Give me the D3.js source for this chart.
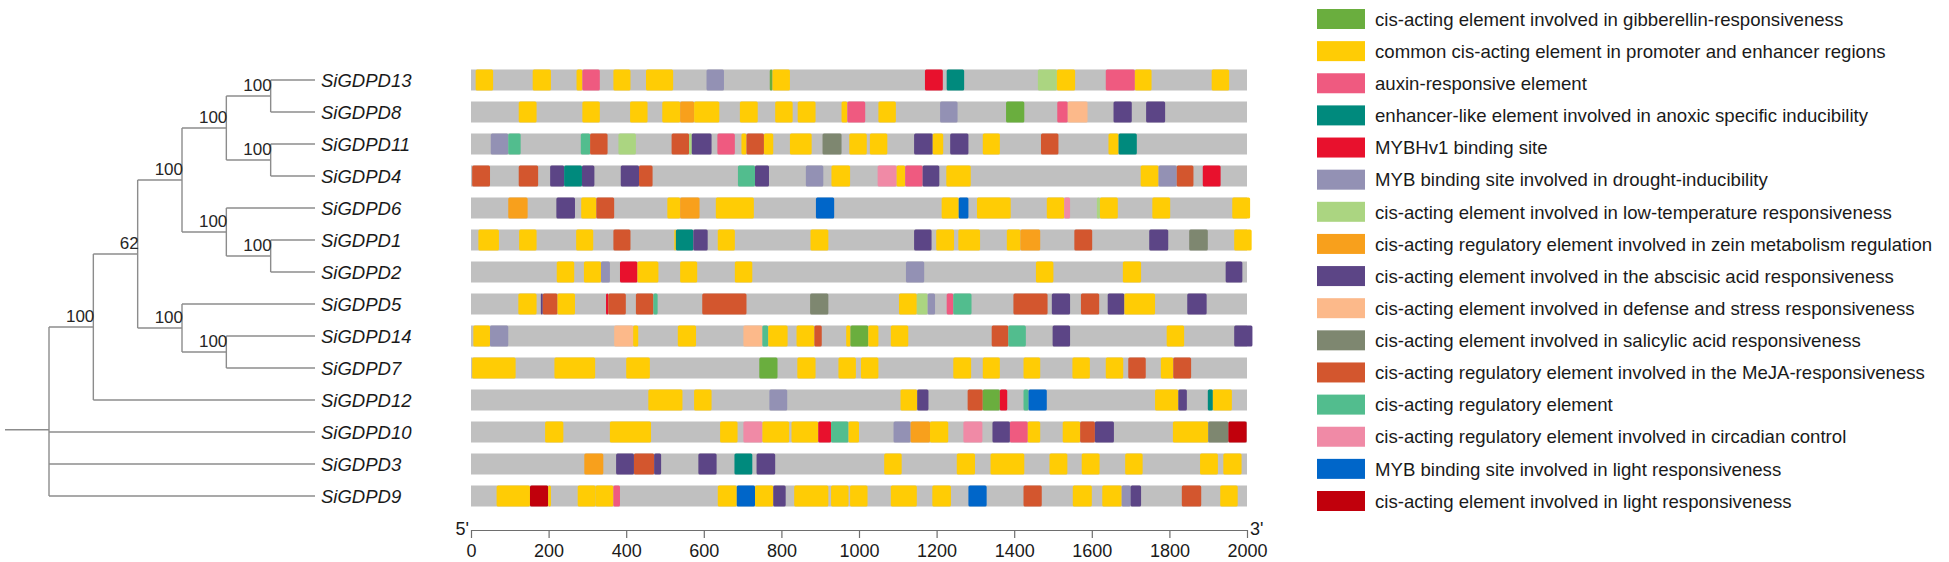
<!DOCTYPE html>
<html>
<head>
<meta charset="utf-8">
<script src="https://cdn.jsdelivr.net/npm/d3@7"></script>
<style>
  html, body { margin: 0; padding: 0; background: #fff; }
  svg { display: block; font-family: "Liberation Sans", Arial, sans-serif; }
</style>
</head>
<body>
<svg id="chart" width="1949" height="562"></svg>
<script>
// Gene order (top to bottom, as in the tree)
const genes = ['SiGDPD13', 'SiGDPD8', 'SiGDPD11', 'SiGDPD4', 'SiGDPD6', 'SiGDPD1', 'SiGDPD2',
    'SiGDPD5', 'SiGDPD14', 'SiGDPD7', 'SiGDPD12', 'SiGDPD10', 'SiGDPD3', 'SiGDPD9'];

// Tree topology with bootstrap support
const tree = {children: [
    {boot: 100, children: [
        {boot: 62, children: [
            {boot: 100, children: [
                {boot: 100, children: [
                    {boot: 100, children: [{name: 'SiGDPD13'}, {name: 'SiGDPD8'}]},
                    {boot: 100, children: [{name: 'SiGDPD11'}, {name: 'SiGDPD4'}]}
                ]},
                {boot: 100, children: [
                    {name: 'SiGDPD6'},
                    {boot: 100, children: [{name: 'SiGDPD1'}, {name: 'SiGDPD2'}]}
                ]}
            ]},
            {boot: 100, children: [
                {name: 'SiGDPD5'},
                {boot: 100, children: [{name: 'SiGDPD14'}, {name: 'SiGDPD7'}]}
            ]}
        ]},
        {name: 'SiGDPD12'}
    ]},
    {name: 'SiGDPD10'},
    {name: 'SiGDPD3'},
    {name: 'SiGDPD9'}
]};

// Element types (legend order)
const motifKeys = ['gib', 'com', 'aux', 'anox', 'mybhv1', 'mybd', 'ltr', 'zein',
    'aba', 'def', 'sa', 'meja', 'reg', 'circ', 'mybl', 'light'];
const motifLabels = [
    'cis-acting element involved in gibberellin-responsiveness',
    'common cis-acting element in promoter and enhancer regions',
    'auxin-responsive element',
    'enhancer-like element involved in anoxic specific inducibility',
    'MYBHv1 binding site',
    'MYB binding site involved in drought-inducibility',
    'cis-acting element involved in low-temperature responsiveness',
    'cis-acting regulatory element involved in zein metabolism regulation',
    'cis-acting element involved in the abscisic acid responsiveness',
    'cis-acting element involved in defense and stress responsiveness',
    'cis-acting element involved in salicylic acid responsiveness',
    'cis-acting regulatory element involved in the MeJA-responsiveness',
    'cis-acting regulatory element',
    'cis-acting regulatory element involved in circadian control',
    'MYB binding site involved in light responsiveness',
    'cis-acting element involved in light responsiveness'
];
const motifColors = ['#6aae3e', '#ffcc05', '#ef5a80', '#008a7d', '#e8112d', '#9391b4', '#abd581', '#f8a01c',
    '#5c4586', '#fcb98a', '#7e8770', '#d3562e', '#52bd8e', '#f08aa6', '#0066c9', '#c1000c'];

// Promoter length and axis ticks
const promoterLength = 2000;
const ticks = [0, 200, 400, 600, 800, 1000, 1200, 1400, 1600, 1800, 2000];

// Elements per gene: [type, start, end] (bp)
const motifs = {
    SiGDPD13: [['com', 12, 57], ['com', 159, 206], ['com', 272, 287], ['aux', 287, 332], ['com', 367, 411],
        ['com', 451, 521], ['mybd', 607, 652], ['gib', 770, 777], ['com', 777, 822], ['mybhv1', 1170, 1216],
        ['anox', 1226, 1271], ['ltr', 1461, 1510], ['com', 1510, 1557], ['aux', 1636, 1711], ['com', 1711, 1754],
        ['com', 1909, 1954]],
    SiGDPD8: [['com', 123, 169], ['com', 287, 332], ['com', 410, 455], ['com', 493, 539], ['zein', 539, 575],
        ['com', 575, 640], ['com', 693, 739], ['com', 784, 829], ['com', 842, 888], ['com', 955, 970],
        ['aux', 970, 1016], ['com', 1050, 1095], ['mybd', 1209, 1254], ['gib', 1379, 1426], ['aux', 1511, 1538],
        ['def', 1538, 1589], ['aba', 1656, 1703], ['aba', 1740, 1789]],
    SiGDPD11: [['mybd', 51, 96], ['reg', 96, 128], ['reg', 283, 307], ['meja', 307, 352], ['ltr', 380, 425],
        ['meja', 517, 562], ['ltr', 562, 569], ['aba', 569, 620], ['aux', 635, 680], ['com', 697, 710],
        ['meja', 710, 755], ['com', 755, 779], ['com', 822, 878], ['sa', 906, 955], ['com', 975, 1020],
        ['com', 1028, 1073], ['aba', 1142, 1190], ['com', 1190, 1217], ['aba', 1235, 1282], ['com', 1319, 1363],
        ['meja', 1469, 1514], ['com', 1643, 1669], ['anox', 1669, 1716]],
    SiGDPD4: [['meja', 3, 49], ['meja', 123, 173], ['aba', 204, 240], ['anox', 240, 286], ['aba', 286, 318],
        ['aba', 386, 433], ['meja', 433, 468], ['reg', 688, 732], ['aba', 732, 768], ['mybd', 863, 908],
        ['com', 929, 977], ['circ', 1048, 1097], ['com', 1097, 1119], ['aux', 1119, 1164], ['aba', 1164, 1207],
        ['com', 1225, 1288], ['com', 1726, 1772], ['mybd', 1772, 1819], ['meja', 1819, 1862], ['mybhv1', 1886, 1932]],
    SiGDPD6: [['zein', 96, 146], ['aba', 220, 268], ['com', 284, 323], ['meja', 323, 369], ['com', 506, 539],
        ['zein', 539, 589], ['com', 631, 729], ['mybl', 889, 936], ['com', 1213, 1257], ['mybl', 1257, 1282],
        ['com', 1304, 1391], ['com', 1484, 1529], ['circ', 1529, 1544], ['ltr', 1613, 1621], ['com', 1621, 1667],
        ['com', 1756, 1802], ['com', 1962, 2008]],
    SiGDPD1: [['com', 19, 72], ['com', 124, 169], ['com', 271, 315], ['meja', 367, 411], ['com', 524, 528],
        ['anox', 528, 573], ['aba', 573, 610], ['com', 636, 680], ['com', 875, 921], ['aba', 1142, 1187],
        ['com', 1199, 1245], ['com', 1256, 1312], ['com', 1381, 1416], ['zein', 1416, 1467], ['meja', 1555, 1601],
        ['aba', 1748, 1797], ['sa', 1851, 1899], ['com', 1967, 2012]],
    SiGDPD2: [['com', 221, 266], ['com', 291, 335], ['mybd', 335, 358], ['mybhv1', 384, 429], ['com', 429, 483],
        ['com', 539, 583], ['com', 680, 725], ['mybd', 1121, 1168], ['com', 1456, 1501], ['com', 1680, 1727],
        ['aba', 1945, 1988]],
    SiGDPD5: [['com', 122, 169], ['aba', 180, 185], ['meja', 185, 223], ['com', 223, 268], ['mybhv1', 348, 354],
        ['meja', 354, 399], ['meja', 425, 470], ['reg', 470, 481], ['meja', 596, 710], ['sa', 874, 921],
        ['com', 1103, 1149], ['ltr', 1149, 1177], ['mybd', 1177, 1196], ['aux', 1226, 1243], ['reg', 1243, 1290],
        ['meja', 1398, 1486], ['aba', 1497, 1544], ['meja', 1572, 1619], ['aba', 1641, 1684], ['com', 1684, 1763],
        ['aba', 1846, 1896]],
    SiGDPD14: [['com', 6, 49], ['mybd', 49, 96], ['def', 369, 418], ['com', 418, 431], ['com', 533, 580],
        ['def', 702, 751], ['reg', 751, 766], ['com', 766, 816], ['com', 839, 885], ['meja', 885, 904],
        ['com', 967, 978], ['gib', 978, 1024], ['com', 1024, 1050], ['com', 1082, 1127], ['meja', 1342, 1385],
        ['reg', 1385, 1430], ['aba', 1499, 1544], ['com', 1793, 1838], ['aba', 1967, 2014]],
    SiGDPD7: [['com', 3, 115], ['com', 215, 320], ['com', 400, 461], ['gib', 743, 790], ['com', 841, 888],
        ['com', 947, 992], ['com', 1005, 1050], ['com', 1243, 1289], ['com', 1319, 1363], ['com', 1424, 1467],
        ['com', 1550, 1595], ['com', 1636, 1681], ['meja', 1694, 1739], ['com', 1778, 1810], ['meja', 1810, 1856]],
    SiGDPD12: [['com', 457, 545], ['com', 575, 620], ['mybd', 769, 815], ['com', 1107, 1150], ['aba', 1150, 1179],
        ['meja', 1280, 1319], ['gib', 1319, 1363], ['mybhv1', 1363, 1382], ['reg', 1424, 1437], ['mybl', 1437, 1484],
        ['com', 1763, 1823], ['aba', 1823, 1845], ['anox', 1899, 1912], ['com', 1912, 1961]],
    SiGDPD10: [['com', 191, 238], ['com', 358, 464], ['com', 642, 687], ['circ', 702, 751], ['com', 751, 820],
        ['com', 826, 895], ['mybhv1', 895, 928], ['reg', 928, 973], ['com', 973, 1000], ['mybd', 1089, 1133],
        ['zein', 1133, 1183], ['com', 1183, 1230], ['circ', 1269, 1318], ['aba', 1344, 1389], ['aux', 1389, 1435],
        ['com', 1435, 1467], ['com', 1525, 1570], ['meja', 1570, 1608], ['aba', 1608, 1657], ['com', 1809, 1900],
        ['sa', 1900, 1952], ['light', 1952, 1999]],
    SiGDPD3: [['zein', 292, 341], ['aba', 374, 420], ['meja', 420, 472], ['aba', 472, 490], ['aba', 586, 633],
        ['anox', 679, 725], ['aba', 736, 784], ['com', 1065, 1110], ['com', 1252, 1299], ['com', 1339, 1426],
        ['com', 1491, 1537], ['com', 1574, 1620], ['com', 1686, 1731], ['com', 1879, 1925], ['com', 1939, 1986]],
    SiGDPD9: [['com', 66, 152], ['light', 152, 199], ['com', 199, 206], ['com', 275, 321], ['com', 321, 367],
        ['aux', 367, 384], ['com', 636, 685], ['mybl', 685, 732], ['com', 732, 779], ['aba', 779, 811],
        ['com', 833, 921], ['com', 928, 973], ['com', 977, 1022], ['com', 1082, 1149], ['com', 1189, 1237],
        ['mybl', 1282, 1329], ['meja', 1424, 1471], ['com', 1551, 1600], ['com', 1627, 1677], ['mybd', 1677, 1700],
        ['aba', 1700, 1727], ['meja', 1832, 1882], ['com', 1931, 1976]]
};

const svg = d3.select('#chart');

const y = d3.scalePoint().domain(genes).range([80, 496]);
const x = d3.scaleLinear().domain([0, promoterLength]).range([471, 1247]);
const color = d3.scaleOrdinal().domain(motifKeys).range(motifColors);
const barH = 21;

// ---- Tree ----
const root = d3.hierarchy(tree);
const maxDepth = d3.max(root.leaves(), d => d.depth);
const depthX = d3.scaleLinear().domain([0, maxDepth]).range([49, 315]);

root.eachAfter(n => {
    n.px = n.children ? depthX(n.depth) : depthX(maxDepth);
    n.py = n.children ? d3.mean(n.children, c => c.py) : y(n.data.name);
});

const treeG = svg.append('g')
    .attr('stroke', '#8c8c8c')
    .attr('stroke-width', 1.4)
    .attr('fill', 'none');

treeG.append('line')
    .attr('x1', 5).attr('x2', root.px)
    .attr('y1', root.py).attr('y2', root.py);

root.descendants().filter(n => n.children).forEach(n => {
    const ys = n.children.map(c => c.py);
    treeG.append('line')
        .attr('x1', n.px).attr('x2', n.px)
        .attr('y1', d3.min(ys)).attr('y2', d3.max(ys));
    n.children.forEach(c => {
        treeG.append('line')
            .attr('x1', n.px).attr('x2', c.px)
            .attr('y1', c.py).attr('y2', c.py);
    });
});

// bootstrap values
svg.append('g').selectAll('text')
    .data(root.descendants().filter(n => n.data.boot != null))
    .join('text')
    .attr('x', d => d.px + 1)
    .attr('y', d => d.py - 5)
    .attr('text-anchor', 'end')
    .style('font-size', '17px')
    .style('fill', '#262626')
    .text(d => d.data.boot);

// gene labels
svg.append('g').selectAll('text')
    .data(root.leaves())
    .join('text')
    .attr('x', d => d.px + 6)
    .attr('y', d => d.py)
    .attr('dy', '0.36em')
    .style('font-size', '18.5px')
    .style('font-style', 'italic')
    .style('fill', '#1a1a1a')
    .text(d => d.data.name);

// ---- Promoter bars ----
const rows = svg.append('g').selectAll('g')
    .data(genes)
    .join('g')
    .attr('transform', d => `translate(0, ${y(d) - barH / 2})`);

rows.append('rect')
    .attr('x', x(0))
    .attr('width', x(promoterLength) - x(0))
    .attr('height', barH)
    .attr('fill', '#c0c0c0');

rows.selectAll('rect.motif')
    .data(g => motifs[g])
    .join('rect')
    .attr('class', 'motif')
    .attr('x', d => x(d[1]))
    .attr('width', d => x(d[2]) - x(d[1]))
    .attr('height', barH)
    .attr('rx', 1.5)
    .attr('fill', d => color(d[0]));

// ---- Axis ----
const axisG = svg.append('g')
    .attr('transform', 'translate(0, 530)')
    .call(d3.axisBottom(x).tickValues(ticks).tickFormat(d3.format('d'))
        .tickSize(8).tickSizeOuter(0).tickPadding(6));
axisG.select('.domain').attr('stroke', '#6e6e6e').attr('stroke-width', 1.2);
axisG.selectAll('.tick line').attr('stroke', '#6e6e6e').attr('stroke-width', 1.2);
axisG.selectAll('.tick text')
    .style('font-size', '18px')
    .style('fill', '#1a1a1a')
    .style('font-family', '"Liberation Sans", Arial, sans-serif');

svg.append('text').attr('x', 469).attr('y', 535).attr('text-anchor', 'end')
    .style('font-size', '18px').style('fill', '#1a1a1a').text("5'");
svg.append('text').attr('x', 1250).attr('y', 535)
    .style('font-size', '18px').style('fill', '#1a1a1a').text("3'");

// ---- Legend ----
const ly = d3.scalePoint().domain(motifKeys).range([19, 501]);
const legend = svg.append('g').selectAll('g')
    .data(motifKeys)
    .join('g')
    .attr('transform', d => `translate(1317, ${ly(d)})`);

legend.append('rect')
    .attr('y', -10)
    .attr('width', 48)
    .attr('height', 20)
    .attr('fill', d => color(d));

legend.append('text')
    .attr('x', 58)
    .attr('dy', '0.36em')
    .style('font-size', '18.6px')
    .style('fill', '#1a1a1a')
    .text((d, i) => motifLabels[i]);
</script>
</body>
</html>
